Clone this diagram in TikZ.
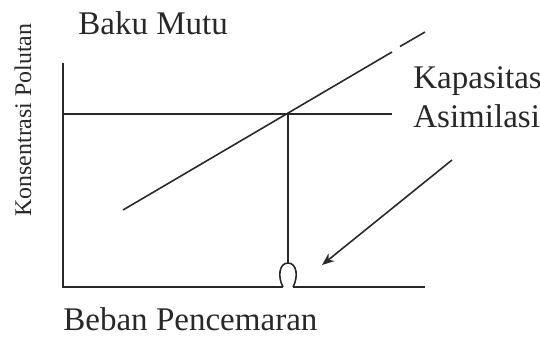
\documentclass[tikz,border=0pt]{standalone}
\usepackage{fontspec}
\setmainfont{Liberation Serif}
\usepackage{xcolor}
\definecolor{ink}{RGB}{40, 40, 40}
\usepackage{tikz}
\usetikzlibrary{calc,arrows.meta}

\tikzset{
    axisline/.style={line width=1.2pt, ink},
    curveline/.style={line width=0.9pt, ink},
    bigtext/.style={font=\fontsize{18.8}{21}\selectfont, text=ink, inner sep=0pt},
    smalltext/.style={font=\fontsize{13.6}{15}\selectfont, text=ink, inner sep=0pt}
}

\begin{document}
\begin{tikzpicture}[>=Stealth]
    \useasboundingbox (0,0) rectangle (10.8,6.72);

    % Axes, with a gap under the loop
    \coordinate (O) at (1.26,0.98);
    \coordinate (Ytop) at (1.26,5.46);
    \coordinate (Xend) at (8.50,0.98);
    \coordinate (GapL) at (5.66,0.98);
    \coordinate (GapR) at (5.86,0.98);
    \draw[axisline] (Ytop) -- (O) -- (GapL);
    \draw[axisline] (GapR) -- (Xend);

    % Baku mutu level
    \coordinate (BmL) at (1.26,4.44);
    \coordinate (BmR) at (7.84,4.44);
    \draw[curveline] (BmL) -- (BmR);

    % Kapasitas asimilasi line, dashed at the end
    \coordinate (LineA) at (2.46,2.52);
    \coordinate (LineB) at (7.84,5.68);
    \coordinate (DashA) at (8.00,5.79);
    \coordinate (DashB) at (8.50,6.08);
    \draw[curveline] (LineA) -- (LineB);
    \draw[curveline] (DashA) -- (DashB);

    % Drop from the meeting point to the x axis
    \coordinate (Meet) at (5.76,4.44);
    \coordinate (Foot) at (5.76,1.46);
    \draw[curveline] (Meet) -- (Foot);
    \draw[curveline] (GapL) .. controls (5.55,1.18) and (5.58,1.46) .. (Foot)
        .. controls (5.94,1.46) and (5.97,1.18) .. (GapR);

    % Arrow
    \coordinate (ArrS) at (9.04,3.52);
    \coordinate (ArrE) at (6.44,1.42);
    \draw[curveline, -{Stealth[length=7pt, width=5.5pt]}] (ArrS) -- (ArrE);

    % Labels
    \node[bigtext, anchor=base west] (baku) at (1.56,6.02) {Baku Mutu};
    \node[bigtext, anchor=base west] (kap) at (8.26,4.96) {Kapasitas};
    \node[bigtext, anchor=base west] (asim) at (8.26,4.18) {Asimilasi};
    \node[bigtext, anchor=base west] (beban) at (1.26,0.12) {Beban Pencemaran};
    \node[smalltext, rotate=90, anchor=base west] (konsen) at (0.62,2.38) {Konsentrasi Polutan};
\end{tikzpicture}
\end{document}
